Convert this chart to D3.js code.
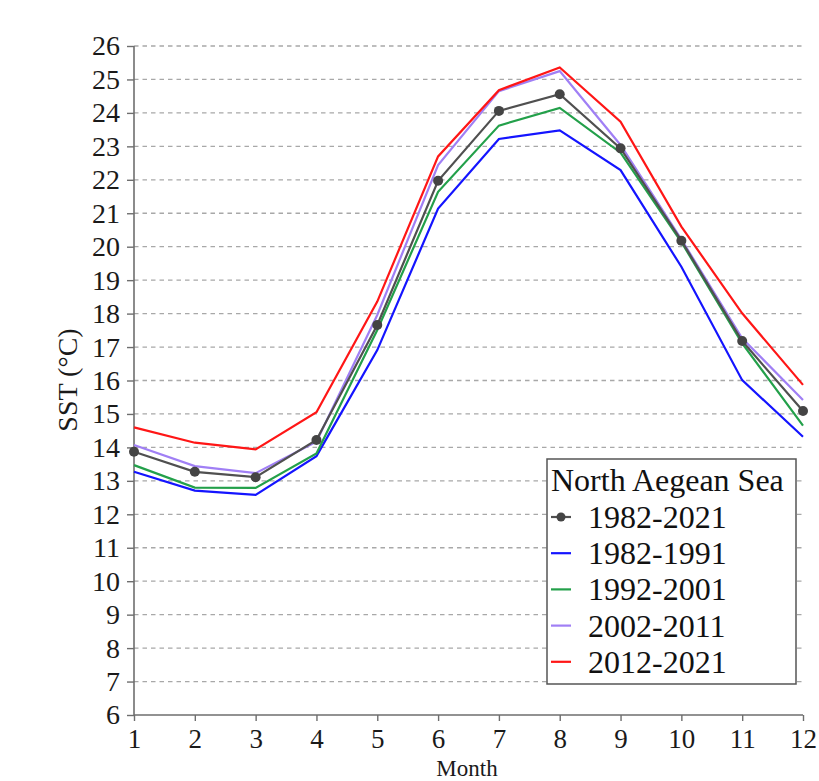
<!DOCTYPE html>
<html>
<head>
<meta charset="utf-8">
<script src="https://cdn.jsdelivr.net/npm/d3@7"></script>
<style>
  html, body { margin: 0; padding: 0; background: #fff; }
  svg { display: block; }
</style>
</head>
<body>
<svg id="chart" width="819" height="781"></svg>
<script>
const months = [1,2,3,4,5,6,7,8,9,10,11,12];
const yTicks = [6,7,8,9,10,11,12,13,14,15,16,17,18,19,20,21,22,23,24,25,26];
const seriesNames = ["1982-2021","1982-1991","1992-2001","2002-2011","2012-2021"];
const seriesColors = ["#505050","#1414ff","#23a04a","#a07ff5","#ff1616"];
const sst_1982_2021 = [13.87,13.27,13.11,14.22,17.66,21.97,24.06,24.56,22.94,20.18,17.18,15.09];
const sst_1982_1991 = [13.27,12.71,12.58,13.74,16.91,21.14,23.22,23.48,22.29,19.40,16.01,14.32];
const sst_1992_2001 = [13.47,12.80,12.79,13.82,17.51,21.64,23.62,24.15,22.81,20.14,17.11,14.65];
const sst_2002_2011 = [14.07,13.44,13.23,14.17,17.96,22.44,24.65,25.25,23.04,20.22,17.26,15.42];
const sst_2012_2021 = [14.60,14.14,13.94,15.05,18.36,22.70,24.68,25.36,23.74,20.60,18.01,15.87];
const legendTitle = "North Aegean Sea";
const xLabel = "Month";
const yLabel = "SST (°C)";

const allSeries = [sst_1982_2021, sst_1982_1991, sst_1992_2001, sst_2002_2011, sst_2012_2021];

const svg = d3.select("#chart");
const font = "'Liberation Serif','Times New Roman',serif";
const pLeft = 134, pRight = 803, pTop = 46, pBottom = 715;

const x = d3.scaleLinear().domain([1,12]).range([pLeft, pRight]);
const y = d3.scaleLinear().domain([6,26]).range([pBottom, pTop]);

// grid
svg.append("g").selectAll("line").data(yTicks.filter(d => d !== 6)).join("line")
  .attr("x1", pLeft).attr("x2", pRight + 2)
  .attr("y1", d => y(d)).attr("y2", d => y(d))
  .attr("stroke", "#a8a8a8").attr("stroke-width", 1.3)
  .attr("stroke-dasharray", "4.5,4");

// axes
const yAxis = svg.append("g").attr("transform", `translate(${pLeft},0)`)
  .call(d3.axisLeft(y).tickValues(yTicks).tickFormat(d3.format("d")).tickSize(7).tickPadding(7));
const xAxis = svg.append("g").attr("transform", `translate(0,${pBottom})`)
  .call(d3.axisBottom(x).tickValues(months).tickFormat(d3.format("d")).tickSize(6).tickPadding(8));
[yAxis, xAxis].forEach(g => {
  g.select(".domain").attr("stroke", "#6e6e6e").attr("stroke-width", 1.6);
  g.selectAll(".tick line").attr("stroke", "#6e6e6e").attr("stroke-width", 1.4);
  g.selectAll("text").attr("font-family", font).attr("fill", "#1a1a1a");
});
yAxis.selectAll("text").attr("font-size", 28);
xAxis.selectAll("text").attr("font-size", 27);
yAxis.select(".domain").attr("d", `M0,${pBottom}V${pTop}`);
xAxis.select(".domain").attr("d", `M${pLeft},0H${pRight}`);

// axis titles
svg.append("text").attr("x", 467).attr("y", 776)
  .attr("text-anchor", "middle").attr("font-family", font).attr("font-size", 23).attr("fill", "#1a1a1a")
  .text(xLabel);
svg.append("text").attr("transform", `translate(77,380) rotate(-90)`)
  .attr("text-anchor", "middle").attr("font-family", font).attr("font-size", 28).attr("fill", "#1a1a1a")
  .text(yLabel);

const line = d3.line().x((d,i) => x(months[i])).y(d => y(d));
const order = [1,2,3,4,0];
order.forEach(k => {
  svg.append("path").datum(allSeries[k])
    .attr("d", line).attr("fill", "none")
    .attr("stroke", seriesColors[k]).attr("stroke-width", 2.2)
    .attr("stroke-linejoin", "miter");
});
svg.append("g").selectAll("circle").data(sst_1982_2021).join("circle")
  .attr("cx", (d,i) => x(months[i])).attr("cy", d => y(d)).attr("r", 5)
  .attr("fill", "#444");

// legend
const lg = svg.append("g");
lg.append("rect").attr("x", 547).attr("y", 459).attr("width", 249).attr("height", 225)
  .attr("fill", "#fff").attr("stroke", "#555").attr("stroke-width", 1.5);
lg.append("text").attr("x", 551).attr("y", 491).attr("font-family", font).attr("font-size", 32)
  .attr("fill", "#111").text(legendTitle);
seriesNames.forEach((name, i) => {
  const cy = 517 + i * 36.2;
  lg.append("line").attr("x1", 551).attr("x2", 571).attr("y1", cy).attr("y2", cy)
    .attr("stroke", seriesColors[i]).attr("stroke-width", 2.2);
  if (i === 0) lg.append("circle").attr("cx", 561).attr("cy", cy).attr("r", 4.5).attr("fill", "#444");
  lg.append("text").attr("x", 588).attr("y", cy + 11).attr("font-family", font).attr("font-size", 32)
    .attr("fill", "#111").text(name);
});
</script>
</body>
</html>
